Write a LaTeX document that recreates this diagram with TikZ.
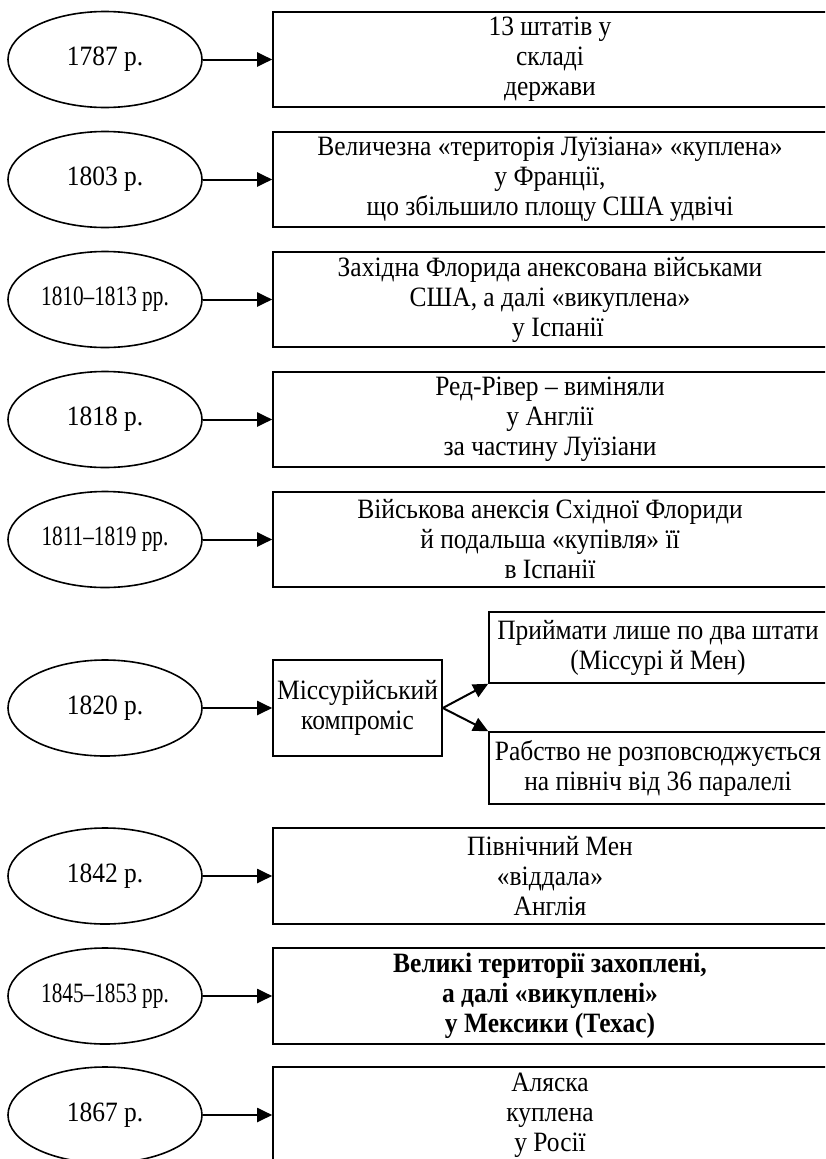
\documentclass[tikz,border=0pt]{standalone}
\usepackage{fontspec}
\setmainfont[FakeStretch=0.91]{Liberation Serif}
\newfontfamily\yearfont[FakeStretch=0.76]{Liberation Serif}
\usetikzlibrary{arrows.meta,shapes.geometric}
\begin{document}
\begin{tikzpicture}[x=1pt,y=-1pt,
  txt/.style={font=\fontsize{28}{30}\selectfont},
  yr/.style={ellipse,draw,line width=1.6pt,minimum width=194pt,minimum height=96pt,inner sep=0pt,txt},
  yrr/.style={yr,font=\yearfont\fontsize{28}{30}\selectfont},
  bigbox/.style={rectangle,draw,line width=1.6pt,minimum width=554pt,minimum height=95pt,inner sep=0pt,align=center,txt},
  sidebox/.style={rectangle,draw,line width=1.6pt,minimum width=338pt,inner sep=0pt,align=center,txt},
  arr/.style={line width=2pt,-{Triangle[length=15pt,width=14pt]}}]
\useasboundingbox (0,0) rectangle (825,1159);
\clip (0,0) rectangle (825,1159);
% row 1
\node[yr] (e1) at (105,59.5) {1787 р.};
\node[bigbox] (b1) at (550,59.5) {13 штатів у\\складі\hspace*{30pt}\\держави};
\draw[arr] (e1.east) -- (b1.west);
% row 2
\node[yr] (e2) at (105,179.5) {1803 р.};
\node[bigbox] (b2) at (550,179.5) {Величезна «територія Луїзіана» «куплена»\\у Франції,\\що збільшило площу США удвічі};
\draw[arr] (e2.east) -- (b2.west);
% row 3
\node[yrr] (e3) at (105,299.5) {1810–1813 рр.};
\node[bigbox] (b3) at (550,299.5) {Західна Флорида анексована військами\\США, а далі «викуплена»\\\hspace*{16pt}у Іспанії};
\draw[arr] (e3.east) -- (b3.west);
% row 4
\node[yr] (e4) at (105,419.5) {1818 р.};
\node[bigbox] (b4) at (550,419.5) {Ред-Рівер – виміняли\\у Англії\\за частину Луїзіани};
\draw[arr] (e4.east) -- (b4.west);
% row 5
\node[yrr] (e5) at (105,539.5) {1811–1819 рр.};
\node[bigbox] (b5) at (550,539.5) {Військова анексія Східної Флориди\\й подальша «купівля» її\\в Іспанії};
\draw[arr] (e5.east) -- (b5.west);
% row 6
\node[yr] (e6) at (105,708) {1820 р.};
\node[rectangle,draw,line width=1.6pt,minimum width=169pt,minimum height=96pt,inner sep=0pt,align=center,txt] (m) at (357.5,708) {Міссурійський\\компроміс};
\node[sidebox,minimum height=71pt] (u) at (658,647.5) {Приймати лише по два штати\\(Міссурі й Мен)};
\node[sidebox,minimum height=72pt] (l) at (658,768) {Рабство не розповсюджується\\на північ від 36 паралелі};
\draw[arr] (e6.east) -- (m.west);
\draw[arr] (m.east) -- (u.south west);
\draw[arr] (m.east) -- (l.north west);
% row 7
\node[yr] (e7) at (105,876) {1842 р.};
\node[bigbox,minimum height=96pt] (b7) at (550,876) {Північний Мен\\«віддала»\\Англія};
\draw[arr] (e7.east) -- (b7.west);
% row 8
\node[yrr] (e8) at (105,996) {1845–1853 рр.};
\node[bigbox,minimum height=96pt,font=\bfseries\fontsize{28}{30}\selectfont] (b8) at (550,996) {Великі території захоплені,\\а далі «викуплені»\\у Мексики (Техас)};
\draw[arr] (e8.east) -- (b8.west);
% row 9
\node[yr] (e9) at (105,1115) {1867 р.};
\node[bigbox,minimum height=96pt] (b9) at (550,1115) {Аляска\\куплена\\у Росії};
\draw[arr] (e9.east) -- (b9.west);
\end{tikzpicture}
\end{document}
